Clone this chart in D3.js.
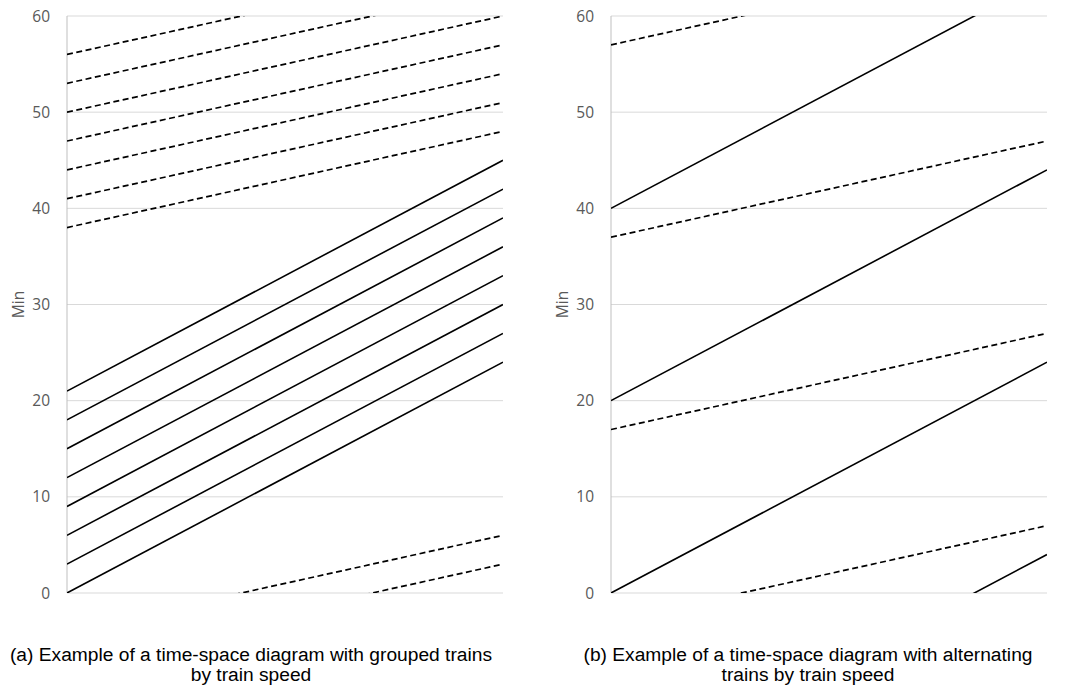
<!DOCTYPE html>
<html lang="en">
<head>
<meta charset="utf-8">
<title>Time-space diagrams</title>
<script src="https://d3js.org/d3.v7.min.js"></script>
<style>
  body { margin: 0; background: #fff; }
  svg text { font-family: "Liberation Sans", Arial, sans-serif; }
</style>
</head>
<body>
<div id="chart"></div>
<script>
// y ticks (minutes)
var yTicks = [0, 10, 20, 30, 40, 50, 60];

// panel (a): grouped trains. each line is [minute at start of section, minute at end]
var solidA = [[0, 24], [3, 27], [6, 30], [9, 33], [12, 36], [15, 39], [18, 42], [21, 45]];
var dashedA = [[-7, 3], [-4, 6], [38, 48], [41, 51], [44, 54], [47, 57], [50, 60], [53, 63], [56, 66]];

// panel (b): alternating trains
var solidB = [[-20, 4], [0, 24], [20, 44], [40, 64]];
var dashedB = [[-3, 7], [17, 27], [37, 47], [57, 67]];

var captionA = ["(a) Example of a time-space diagram with grouped trains", "by train speed"];
var captionB = ["(b) Example of a time-space diagram with alternating", "trains by train speed"];

var W = 1066, H = 686;
var svg = d3.select("#chart").append("svg")
    .attr("width", W)
    .attr("height", H);

var panels = [
  {id: "a", left: 67, right: 503, solid: solidA, dashed: dashedA, caption: captionA, cx: 251},
  {id: "b", left: 611, right: 1047, solid: solidB, dashed: dashedB, caption: captionB, cx: 808}
];

var plotTop = 16, plotBottom = 593;

panels.forEach(function(p) {
  var x = d3.scaleLinear().domain([0, 1]).range([p.left, p.right]);
  var y = d3.scaleLinear().domain([0, 60]).range([plotBottom, plotTop]);

  var g = svg.append("g");

  // gridlines
  g.selectAll(".grid")
    .data(yTicks)
    .enter().append("line")
      .attr("x1", p.left).attr("x2", p.right)
      .attr("y1", function(d) { return y(d); })
      .attr("y2", function(d) { return y(d); })
      .attr("stroke", "#d9d9d9")
      .attr("stroke-width", 1);

  // y axis line
  g.append("line")
    .attr("x1", p.left).attr("x2", p.left)
    .attr("y1", plotTop).attr("y2", plotBottom)
    .attr("stroke", "#bfbfbf")
    .attr("stroke-width", 1);

  // tick labels
  g.selectAll(".tick")
    .data(yTicks)
    .enter().append("text")
      .attr("x", p.left - 17)
      .attr("y", function(d) { return y(d); })
      .attr("dy", "0.36em")
      .attr("text-anchor", "end")
      .attr("fill", "#595959")
      .style("font-family", "'Open Sans', sans-serif")
      .style("font-size", "15.5px")
      .text(function(d) { return d; });

  // axis title
  g.append("text")
    .attr("transform", "translate(" + (p.left - 43) + "," + ((plotTop + plotBottom) / 2) + ") rotate(-90)")
    .attr("text-anchor", "middle")
    .attr("fill", "#595959")
    .style("font-family", "'Open Sans', sans-serif")
    .style("font-size", "15.5px")
    .text("Min");

  // clip lines to the plot area
  svg.append("clipPath").attr("id", "clip-" + p.id)
    .append("rect")
      .attr("x", p.left).attr("y", plotTop)
      .attr("width", p.right - p.left).attr("height", plotBottom - plotTop);

  var line = d3.line()
    .x(function(d, i) { return x(i); })
    .y(function(d) { return y(d); });

  var lines = g.append("g").attr("clip-path", "url(#clip-" + p.id + ")");

  lines.selectAll(".solid")
    .data(p.solid)
    .enter().append("path")
      .attr("d", line)
      .attr("fill", "none")
      .attr("stroke", "#000")
      .attr("stroke-width", 1.6);

  lines.selectAll(".dashed")
    .data(p.dashed)
    .enter().append("path")
      .attr("d", line)
      .attr("fill", "none")
      .attr("stroke", "#000")
      .attr("stroke-width", 1.7)
      .attr("stroke-dasharray", "6,3.5");

  // caption
  svg.append("text")
    .attr("x", p.cx)
    .attr("y", 661)
    .attr("text-anchor", "middle")
    .attr("fill", "#000")
    .style("font-size", "19.2px")
    .selectAll("tspan")
    .data(p.caption)
    .enter().append("tspan")
      .attr("x", p.cx)
      .attr("dy", function(d, i) { return i === 0 ? 0 : 20; })
      .text(function(d) { return d; });
});
</script>
</body>
</html>
